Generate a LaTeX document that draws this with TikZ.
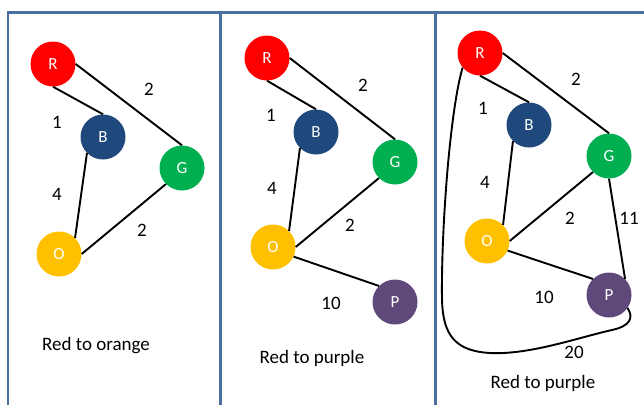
\documentclass[tikz,border=0pt]{standalone}
\usepackage{fontspec}
\setmainfont{Carlito}
\definecolor{rednode}{HTML}{FF0000}
\definecolor{bluenode}{HTML}{1F497D}
\definecolor{greennode}{HTML}{00B050}
\definecolor{orangenode}{HTML}{FFC000}
\definecolor{purplenode}{HTML}{5F497A}
\definecolor{framecol}{HTML}{4A6FA0}
\begin{document}
\begin{tikzpicture}[
	x=1pt, y=-1pt,
	vertex/.style = {circle, minimum size=45pt, inner sep=0pt, text=white, font=\fontsize{17}{20}\selectfont},
	edge/.style = {line width=1.9pt, black},
	weight/.style = {font=\fontsize{19}{22}\selectfont},
	caption/.style = {font=\fontsize{19}{22}\selectfont},
	frame/.style = {line width=2.4pt, framecol}
]
\useasboundingbox (0,0) rectangle (644,405);

% frames
\draw[frame] (8,405) -- (8,12.5) -- (644,12.5);
\draw[frame] (220.5,12.5) -- (220.5,405);
\draw[frame] (435.5,12.5) -- (435.5,405);

% red to orange
\node[vertex, fill=rednode] (r1) at (53,64) {R};
\node[vertex, fill=bluenode] (b1) at (103,137) {B};
\node[vertex, fill=greennode] (g1) at (182,168) {G};
\node[vertex, fill=orangenode] (o1) at (59,254) {O};
\draw[edge] (r1.south) -- (b1.north);
\draw[edge] (r1.east) -- (g1.north);
\draw[edge] (b1.south west) -- (o1.north east);
\draw[edge] (o1.east) -- (g1.south west);
\node[weight] (w1a) at (149,89) {2};
\node[weight] (w1b) at (57,122) {1};
\node[weight] (w1c) at (57,194) {4};
\node[weight] (w1d) at (142,230) {2};
\node[caption] (c1) at (96,346) {Red to orange};

% red to purple
\node[vertex, fill=rednode] (r2) at (267,58) {R};
\node[vertex, fill=bluenode] (b2) at (316,132) {B};
\node[vertex, fill=greennode] (g2) at (395,162) {G};
\node[vertex, fill=orangenode] (o2) at (273,247) {O};
\node[vertex, fill=purplenode] (p2) at (395,302) {P};
\draw[edge] (r2.south) -- (b2.north);
\draw[edge] (r2.east) -- (g2.north);
\draw[edge] (b2.south west) -- (o2.north east);
\draw[edge] (o2.east) -- (g2.south west);
\draw[edge] (o2.-25) -- (p2.north west);
\node[weight] (w2a) at (363,85) {2};
\node[weight] (w2b) at (271,115) {1};
\node[weight] (w2c) at (272,188) {4};
\node[weight] (w2d) at (350,225) {2};
\node[weight] (w2e) at (331,303) {10};
\node[caption] (c2) at (312,358) {Red to purple};

% red to purple, with the long way round
\node[vertex, fill=rednode] (r3) at (480,53) {R};
\node[vertex, fill=bluenode] (b3) at (529,125) {B};
\node[vertex, fill=greennode] (g3) at (609,156) {G};
\node[vertex, fill=orangenode] (o3) at (487,241) {O};
\node[vertex, fill=purplenode] (p3) at (609,295) {P};
\draw[edge] (r3.south) -- (b3.north);
\draw[edge] (r3.east) -- (g3.north);
\draw[edge] (b3.south west) -- (o3.north east);
\draw[edge] (o3.east) -- (g3.south west);
\draw[edge] (o3.-25) -- (p3.north west);
\draw[edge] (g3.south) -- (p3.north east);
\draw[edge] (p3.-35) .. controls (634,318) and (630,326) .. (612,330)
	.. controls (580,337) and (530,355) .. (490,353)
	.. controls (455,351) and (443,335) .. (442,300)
	.. controls (441,230) and (450,110) .. (r3.220);
\node[weight] (w3a) at (576,79) {2};
\node[weight] (w3b) at (483,108) {1};
\node[weight] (w3c) at (485,182) {4};
\node[weight] (w3d) at (570,218) {2};
\node[weight] (w3e) at (629,218) {11};
\node[weight] (w3f) at (544,297) {10};
\node[weight] (w3g) at (574,352) {20};
\node[caption] (c3) at (543,383) {Red to purple};

\end{tikzpicture}
\end{document}
